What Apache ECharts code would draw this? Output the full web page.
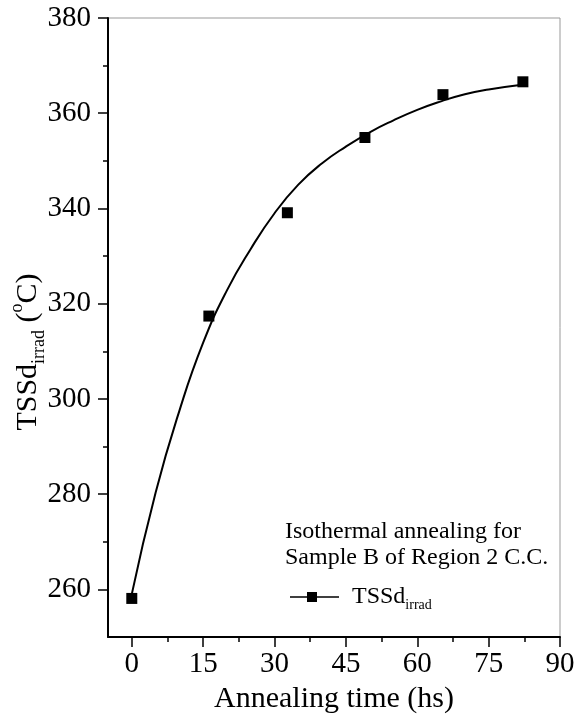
<!DOCTYPE html>
<html>
<head>
<meta charset="utf-8">
<script src="https://cdn.jsdelivr.net/npm/echarts@6/dist/echarts.min.js"></script>
<style>
  html, body { margin: 0; padding: 0; background: #fff; }
  #chart { width: 586px; height: 715px; }
</style>
</head>
<body>
<div id="chart"></div>
<script>
  // measured points
  var timeHs = [0, 16.2, 32.7, 49.0, 65.4, 82.2];
  var tssd = [258.1, 317.4, 339.1, 354.9, 363.9, 366.6];

  // fitted curve
  var fitX = [0, 5, 10, 15, 20, 25, 30, 35, 40, 45, 50, 55, 60, 65, 70, 75, 82];
  var fitY = [259, 280.3, 297.5, 311.8, 322.8, 331.5, 339, 345, 349.5, 353, 356, 358.5, 360.7, 362.5, 364, 365, 366];

  var xMajor = [0, 15, 30, 45, 60, 75, 90];
  var xMinor = [7.5, 22.5, 37.5, 52.5, 67.5, 82.5];
  var yMajor = [260, 280, 300, 320, 340, 360, 380];
  var yMinor = [270, 290, 310, 330, 350, 370];

  var font = 'Liberation Serif';

  var pts = timeHs.map(function (x, i) { return [x, tssd[i]]; });
  var fit = fitX.map(function (x, i) { return [x, fitY[i]]; });

  var chart = echarts.init(document.getElementById('chart'));
  chart.setOption({
    backgroundColor: '#fff',
    animation: false,
    grid: {
      left: 108, right: 26, top: 18, bottom: 78,
      outerBoundsMode: 'none',
      show: true, borderColor: '#999', borderWidth: 1
    },
    legend: {
      data: ['TSSd'],
      left: 285,
      top: 580,
      itemWidth: 49,
      itemHeight: 10,
      icon: 'path://M0,4.3H49V5.7H0Z M17,0H27V10H17Z',
      itemStyle: { color: '#000', opacity: 1 },
      formatter: function () { return '{a|TSSd}{b|irrad}'; },
      textStyle: {
        rich: {
          a: { fontFamily: font, fontSize: 24, color: '#000', padding: [0, 0, 0, 8], lineHeight: 30, verticalAlign: 'middle' },
          b: { fontFamily: font, fontSize: 14, color: '#000', lineHeight: 30, verticalAlign: 'bottom' }
        }
      }
    },
    graphic: [
      {
        type: 'text', left: 285, top: 519,
        style: {
          text: 'Isothermal annealing for\nSample B of Region 2 C.C.',
          font: '24px "Liberation Serif"', lineHeight: 26, fill: '#000'
        }
      },
      {
        type: 'text', x: 28, y: 352, rotation: Math.PI / 2,
        style: {
          text: '{a|TSSd}{s|irrad}{a| (}{u|o}{a|C)}',
          align: 'center', verticalAlign: 'middle', fill: '#000',
          rich: {
            a: { fontFamily: font, fontSize: 30, lineHeight: 40, verticalAlign: 'middle' },
            s: { fontFamily: font, fontSize: 18, lineHeight: 40, verticalAlign: 'bottom' },
            u: { fontFamily: font, fontSize: 18, lineHeight: 40, verticalAlign: 'top' }
          }
        }
      }
    ],
    xAxis: [
      {
        type: 'value', min: -5, max: 90, position: 'bottom',
        name: 'Annealing time (hs)', nameLocation: 'middle', nameGap: 46,
        nameTextStyle: { fontFamily: font, fontSize: 30, color: '#000' },
        axisLine: { onZero: false, lineStyle: { color: '#000', width: 2 } },
        axisTick: { customValues: xMajor, length: 10, lineStyle: { color: '#000', width: 1.5 } },
        axisLabel: { customValues: xMajor, fontFamily: font, fontSize: 29, color: '#000', margin: 13 },
        splitLine: { show: false }
      },
      {
        type: 'value', min: -5, max: 90, position: 'bottom',
        axisLine: { show: false, onZero: false },
        axisTick: { customValues: xMinor, length: 5, lineStyle: { color: '#000', width: 1.5 } },
        axisLabel: { show: false },
        splitLine: { show: false }
      }
    ],
    yAxis: [
      {
        type: 'value', min: 250, max: 380, position: 'left',
        axisLine: { onZero: false, lineStyle: { color: '#000', width: 2 } },
        axisTick: { customValues: yMajor, length: 10, lineStyle: { color: '#000', width: 1.5 } },
        axisLabel: { customValues: yMajor, fontFamily: font, fontSize: 29, color: '#000', margin: 17 },
        splitLine: { show: false }
      },
      {
        type: 'value', min: 250, max: 380, position: 'left',
        axisLine: { show: false, onZero: false },
        axisTick: { customValues: yMinor, length: 5, lineStyle: { color: '#000', width: 1.5 } },
        axisLabel: { show: false },
        splitLine: { show: false }
      }
    ],
    series: [
      {
        name: 'fit', type: 'line', data: fit, smooth: true,
        showSymbol: false, silent: true,
        lineStyle: { color: '#000', width: 2 }
      },
      {
        name: 'TSSd', type: 'scatter', data: pts,
        symbol: 'rect', symbolSize: 11,
        itemStyle: { color: '#000', opacity: 1 }
      }
    ]
  });
</script>
</body>
</html>
